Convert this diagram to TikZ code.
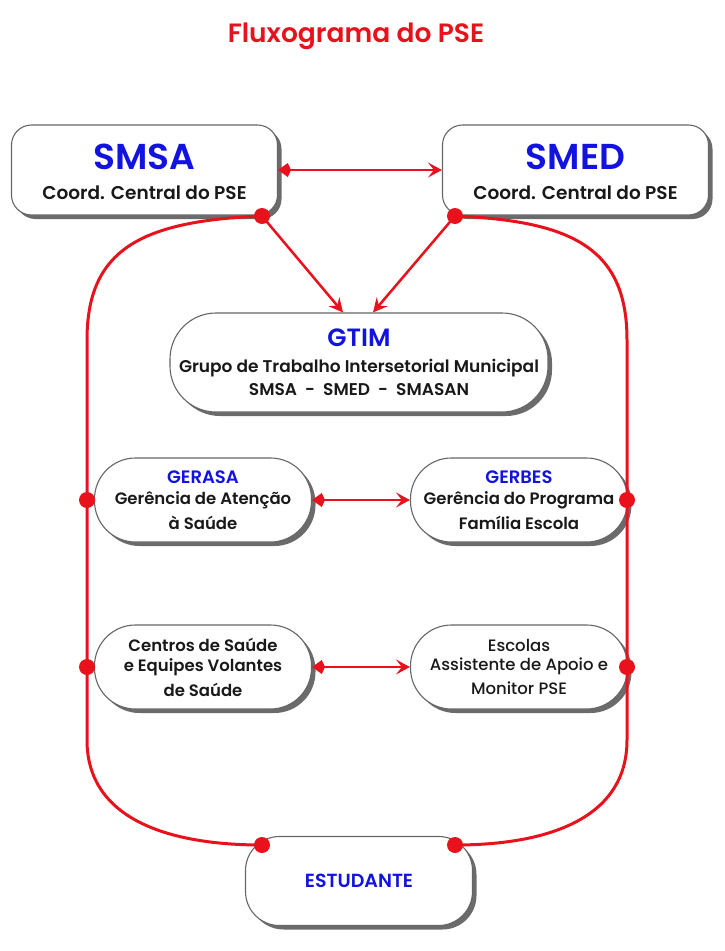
\documentclass[tikz,border=0pt]{standalone}
\usepackage{fontspec}
\setmainfont{Poppins}
\newfontfamily\pmed{Poppins}[UprightFont=* Medium, BoldFont=* SemiBold]
\usetikzlibrary{shadows,arrows.meta,calc}
\definecolor{pred}{RGB}{232,18,28}
\definecolor{pblue}{RGB}{18,18,225}
\definecolor{ptext}{RGB}{25,25,25}
\newcommand{\fs}[1]{\fontsize{#1}{#1}\selectfont}
\begin{document}
\begin{tikzpicture}[x=1pt,y=-1pt,
  box/.style={draw=black!60, line width=1.1pt, fill=white, align=center, inner sep=0pt,
    text=ptext, font=\pmed\bfseries,
    drop shadow={shadow xshift=4pt, shadow yshift=-4pt, fill=black!58, opacity=1}},
  bigbox/.style={box, rounded corners=20pt, minimum width=266pt, minimum height=90pt},
  pill/.style={box, rounded corners=41pt, minimum width=217pt, minimum height=84pt},
  redline/.style={draw=pred, line width=3pt},
  redarrow/.style={draw=pred, line width=2.6pt, arrows={Kite[length=13pt,width=14pt]-Stealth[length=14pt,width=15pt,inset=6pt]}},
  downarrow/.style={draw=pred, line width=2.5pt, -{Stealth[length=14pt,width=14pt,inset=5pt]}},
  reddot/.style={circle, fill=pred, inner sep=0pt, minimum size=16pt}
]
\useasboundingbox (0,0) rectangle (724,951);

% title
\node[text=pred, font=\pmed\fs{26.5}\bfseries] (title) at (356,36) {Fluxograma do PSE};

% boxes
\node[bigbox] (smsa) at (144.5,170) {\rule{0pt}{6pt}\\[-4pt]{\fs{36}\bfseries\color{pblue}SMSA}\\[15pt]{\fs{18.5}Coord. Central do PSE}};
\node[bigbox] (smed) at (575.5,170) {\rule{0pt}{6pt}\\[-4pt]{\fs{36}\bfseries\color{pblue}SMED}\\[15pt]{\fs{18.5}Coord. Central do PSE}};
\node[box, rounded corners=46pt, minimum width=378pt, minimum height=99pt] (gtim) at (359,362.5)
  {{\fs{25}\color{pblue}GTIM}\\[11pt]{\fs{17}Grupo de Trabalho Intersetorial Municipal}\\[6pt]{\fs{17}SMSA\ \ -\ \ SMED\ \ -\ \ SMASAN}};
\node[pill] (gerasa) at (203,500) {{\fs{18}\color{pblue}GERASA}\\[7pt]{\fs{16.5}Gerência de Atenção}\\[6pt]{\fs{16.5}à Saúde}};
\node[pill] (gerbes) at (519,500) {{\fs{18}\color{pblue}GERBES}\\[7pt]{\fs{16.5}Gerência do Programa}\\[6pt]{\fs{16.5}Família Escola}};
\node[pill] (centros) at (203,667) {{\fs{16.5}Centros de Saúde}\\[6pt]{\fs{16.5}e Equipes Volantes}\\[6pt]{\fs{16.5}de Saúde}};
\node[pill, font=\pmed\mdseries] (escolas) at (519,667) {{\fs{16.5}Escolas}\\[6pt]{\fs{16.5}Assistente de Apoio e}\\[6pt]{\fs{16.5}Monitor PSE}};
\node[box, rounded corners=34pt, minimum width=227pt, minimum height=89pt] (estud) at (359,881) {{\fs{19}\color{pblue}ESTUDANTE}};

% loop anchor points
\coordinate (d1) at (262,216);
\coordinate (d2) at (455,216);
\coordinate (d5) at (262,845);
\coordinate (d6) at (455,845);
\coordinate (l1) at (87,500);
\coordinate (l2) at (87,667);
\coordinate (r1) at (627,500);
\coordinate (r2) at (627,667);

% loop
\draw[redline] (d1) .. controls (140,221) and (87,250) .. (87,340) -- (l1) -- (l2) -- (87,740)
  .. controls (87,820) and (170,845) .. (d5);
\draw[redline] (d2) .. controls (575,221) and (627,250) .. (627,340) -- (r1) -- (r2) -- (627,740)
  .. controls (627,820) and (545,845) .. (d6);

% arrows
\draw[redarrow] (smsa.east) -- (smed.west);
\draw[redarrow] (gerasa.east) -- (gerbes.west);
\draw[redarrow] (centros.east) -- (escolas.west);
\draw[downarrow] (d1) -- ($(gtim.north)+(-16,0)$);
\draw[downarrow] (d2) -- ($(gtim.north)+(14,0)$);

% dots
\foreach \p in {d1,d2,d5,d6,l1,l2,r1,r2} \node[reddot] (dot\p) at (\p) {};
\end{tikzpicture}
\end{document}
